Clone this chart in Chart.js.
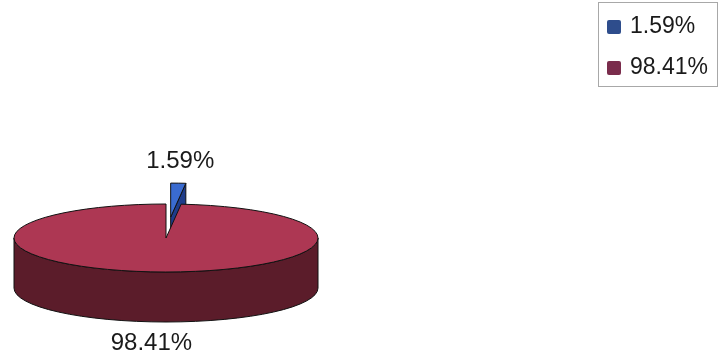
<!DOCTYPE html>
<html>
<head>
<meta charset="utf-8">
<script src="https://cdn.jsdelivr.net/npm/chart.js@4"></script>
<style>
  html, body { margin: 0; padding: 0; background: #fff; }
  #wrap { position: relative; width: 720px; height: 357px; }
  #legend {
    position: absolute; left: 598px; top: 2px; width: 120px; height: 85px;
    border: 1px solid #a8a8a8; box-sizing: border-box;
    font-family: "Liberation Sans", Arial, sans-serif; font-size: 23px; color: #1a1a1a;
  }
  .item { position: absolute; left: 8px; height: 26px; line-height: 26px; white-space: nowrap; }
  .swatch { display: inline-block; width: 14px; height: 14px; margin-right: 9px; vertical-align: -1px; border-radius: 2px; }
</style>
</head>
<body>
<div id="wrap">
  <canvas id="pieChart" width="720" height="357"></canvas>
  <div id="legend"></div>
</div>
<script>
const labels = ["1.59%", "98.41%"];
const values = [1.59, 98.41];
const topColors = ["#3a6bd0", "#ad3753"];
const sideColors = ["#1e3c8a", "#5b1c2a"];
const legendColors = ["#2e4d8c", "#7a2c4c"];

// Legend
const legendDiv = document.getElementById("legend");
labels.forEach((l, i) => {
  legendDiv.innerHTML += `<div class="item" style="top:${9 + i * 41}px"><span class="swatch" style="background:${legendColors[i]}"></span>${l}</div>`;
});

const RX = 152, RY = 34, DEPTH = 50;

function geom(el, sx, sy) {
  const off = el.options.offset || 0;
  const mid = (el.startAngle + el.endAngle) / 2;
  return {
    x: el.x + Math.cos(mid) * off * sx,
    y: el.y + Math.sin(mid) * off * sy,
    rx: el.outerRadius * sx,
    ry: el.outerRadius * sy,
    s: el.startAngle,
    e: el.endAngle,
    mid: mid
  };
}

function drawWall(ctx, g, a, fill) {
  const px = g.x + g.rx * Math.cos(a), py = g.y + g.ry * Math.sin(a);
  ctx.beginPath();
  ctx.moveTo(g.x, g.y);
  ctx.lineTo(px, py);
  ctx.lineTo(px, py + DEPTH);
  ctx.lineTo(g.x, g.y + DEPTH);
  ctx.closePath();
  ctx.fillStyle = fill;
  ctx.fill();
  ctx.stroke();
}

function drawSide(ctx, g, fill) {
  const s = Math.max(g.s, 0), e = Math.min(g.e, Math.PI);
  if (e <= s) return;
  ctx.beginPath();
  ctx.ellipse(g.x, g.y, g.rx, g.ry, 0, s, e);
  ctx.ellipse(g.x, g.y + DEPTH, g.rx, g.ry, 0, e, s, true);
  ctx.closePath();
  ctx.fillStyle = fill;
  ctx.fill();
  ctx.stroke();
}

function drawTop(ctx, g, fill) {
  ctx.beginPath();
  ctx.moveTo(g.x, g.y);
  ctx.ellipse(g.x, g.y, g.rx, g.ry, 0, g.s, g.e);
  ctx.closePath();
  ctx.fillStyle = fill;
  ctx.fill();
  ctx.stroke();
}

const pie3d = {
  id: "pie3d",
  beforeDatasetsDraw(chart) {
    const ctx = chart.ctx;
    const arcs = chart.getDatasetMeta(0).data;
    const R = arcs[0].outerRadius;
    const sx = RX / R, sy = RY / R;
    const g = arcs.map(el => geom(el, sx, sy));
    ctx.save();
    ctx.strokeStyle = "#111";
    ctx.lineWidth = 1;
    ctx.lineJoin = "round";
    // exploded small slice first (it sits at the back)
    drawWall(ctx, g[0], g[0].e, sideColors[0]);
    drawSide(ctx, g[0], sideColors[0]);
    drawTop(ctx, g[0], topColors[0]);
    // main slice
    drawSide(ctx, g[1], sideColors[1]);
    drawTop(ctx, g[1], topColors[1]);

    // labels
    ctx.fillStyle = "#1a1a1a";
    ctx.font = "24px 'Liberation Sans', Arial, sans-serif";
    ctx.textAlign = "center";
    ctx.textBaseline = "middle";
    const p0x = g[0].x + g[0].rx * Math.cos(g[0].mid);
    const p0y = g[0].y + g[0].ry * Math.sin(g[0].mid);
    ctx.fillText(labels[0], p0x + 2, p0y - 22);
    const p1x = g[1].x + g[1].rx * Math.cos(g[1].mid);
    const p1y = g[1].y + g[1].ry * Math.sin(g[1].mid) + DEPTH;
    ctx.fillText(labels[1], p1x - 7, p1y + 21);
    ctx.restore();
    return false;
  }
};

new Chart(document.getElementById("pieChart").getContext("2d"), {
  type: "pie",
  data: {
    labels: labels,
    datasets: [{
      data: values,
      backgroundColor: topColors,
      offset: [56, 0],
      borderWidth: 0
    }]
  },
  options: {
    responsive: false,
    animation: false,
    layout: { padding: { left: 14, right: 402, top: 119, bottom: 0 } },
    plugins: {
      legend: { display: false },
      tooltip: { enabled: false }
    }
  },
  plugins: [pie3d]
});
</script>
</body>
</html>
